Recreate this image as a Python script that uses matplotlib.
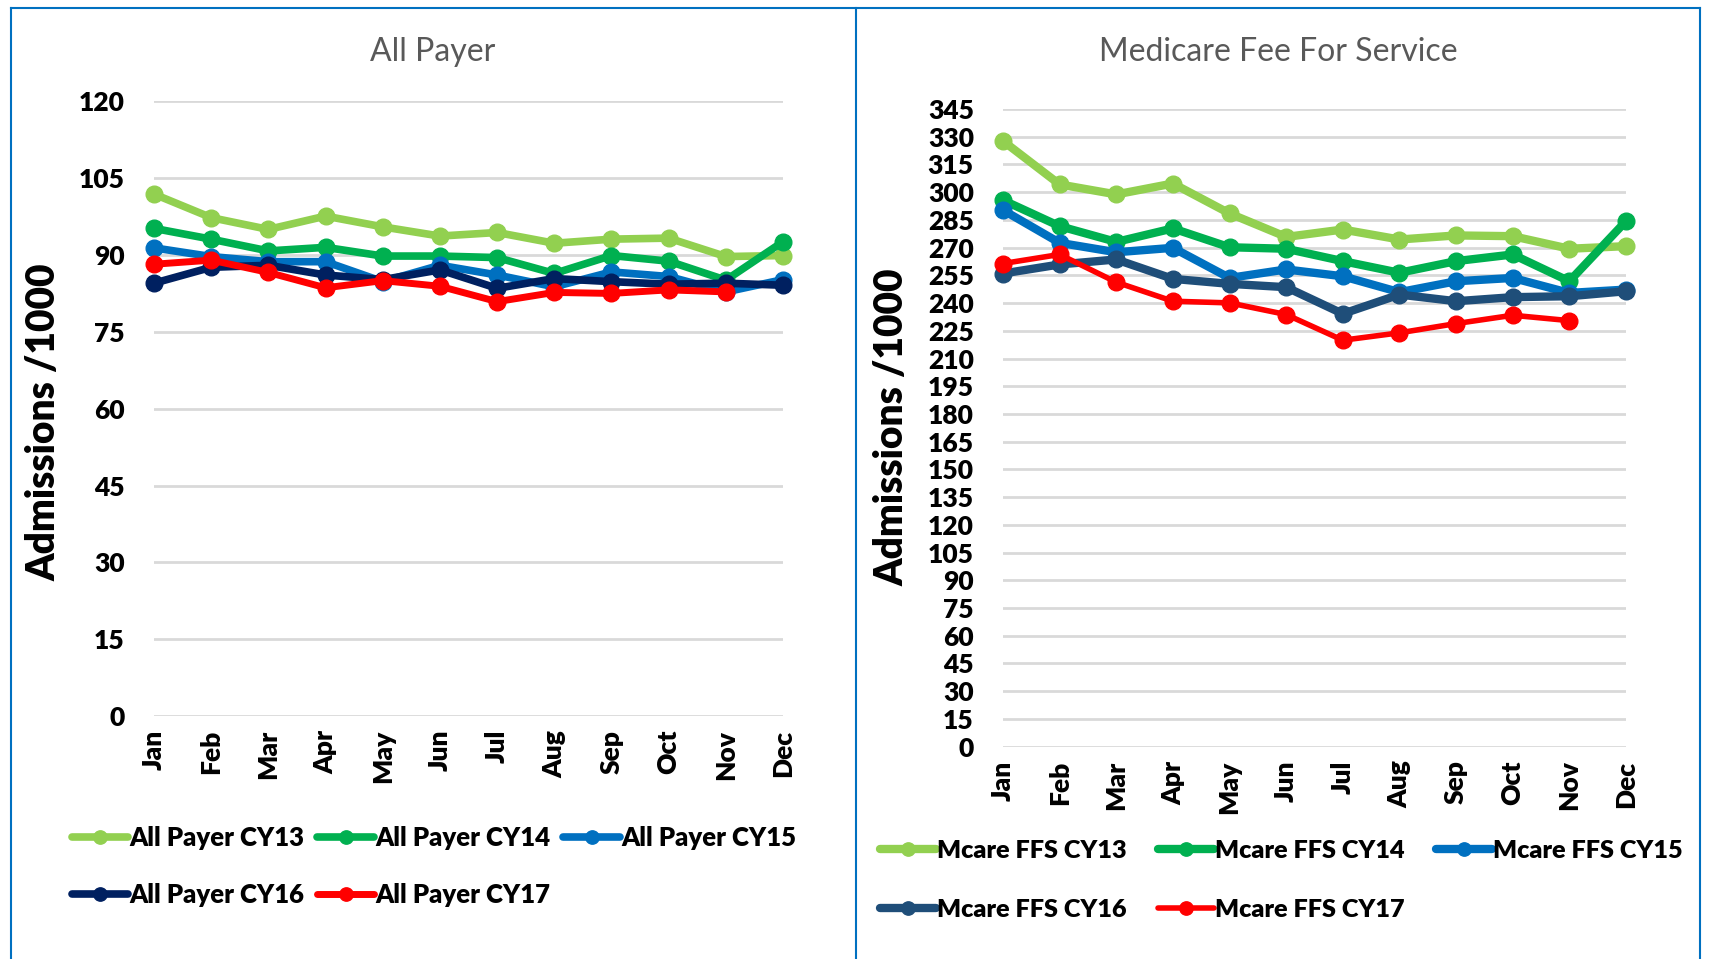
import matplotlib.pyplot as plt
from matplotlib.lines import Line2D

plt.rcParams['font.family'] = ['Lato', 'DejaVu Sans']

months = ["Jan", "Feb", "Mar", "Apr", "May", "Jun", "Jul", "Aug", "Sep", "Oct", "Nov", "Dec"]

# All Payer admissions per 1000
ap_cy13 = [101.9, 97.3, 95.0, 97.6, 95.5, 93.7, 94.4, 92.3, 93.1, 93.3, 89.7, 89.9]
ap_cy14 = [95.2, 93.1, 90.8, 91.5, 89.8, 89.8, 89.5, 86.4, 89.9, 88.8, 85.1, 92.6]
ap_cy15 = [91.4, 89.7, 88.7, 88.7, 84.8, 88.0, 86.1, 83.8, 86.7, 85.8, 82.8, 85.2]
ap_cy16 = [84.5, 87.6, 88.0, 86.1, 85.2, 87.1, 83.5, 85.4, 84.8, 84.3, 84.5, 84.1]
ap_cy17 = [88.2, 89.0, 86.6, 83.6, 85.0, 83.9, 80.9, 82.7, 82.5, 83.2, 82.8, None]

# Medicare FFS admissions per 1000
mc_cy13 = [327.7, 304.2, 298.8, 304.7, 288.5, 275.8, 279.8, 274.4, 276.6, 276.2, 269.4, 270.8]
mc_cy14 = [295.7, 281.6, 273.1, 280.4, 270.2, 269.4, 262.7, 256.4, 262.7, 266.3, 251.8, 284.3]
mc_cy15 = [290.3, 272.6, 267.5, 269.9, 253.6, 258.2, 254.5, 245.9, 251.8, 253.6, 245.5, 247.3]
mc_cy16 = [256.0, 260.9, 263.6, 253.1, 250.4, 248.6, 234.2, 244.6, 241.0, 243.2, 243.7, 246.4]
mc_cy17 = [261.4, 266.3, 251.3, 241.0, 240.1, 233.8, 219.9, 223.9, 228.9, 233.4, 230.5, None]

ap_series = [("All Payer CY13", ap_cy13, "#92D050"),
             ("All Payer CY14", ap_cy14, "#00B050"),
             ("All Payer CY15", ap_cy15, "#0070C0"),
             ("All Payer CY16", ap_cy16, "#002060"),
             ("All Payer CY17", ap_cy17, "#FF0000")]
mc_series = [("Mcare FFS CY13", mc_cy13, "#92D050"),
             ("Mcare FFS CY14", mc_cy14, "#00B050"),
             ("Mcare FFS CY15", mc_cy15, "#0070C0"),
             ("Mcare FFS CY16", mc_cy16, "#1F4E79"),
             ("Mcare FFS CY17", mc_cy17, "#FF0000")]

fig = plt.figure(figsize=(17.09, 9.59), dpi=100)
ax1 = fig.add_axes([0.0901, 0.2534, 0.3681, 0.6409])
ax2 = fig.add_axes([0.5869, 0.2215, 0.3645, 0.6648])

x = list(range(12))
BOLD = "heavy"


def style(ax, ymax, step):
    ax.set_xlim(0, 11)
    ax.set_ylim(0, ymax)
    ax.set_yticks(range(0, ymax + 1, step))
    ax.set_xticks(x)
    ax.set_xticklabels(months, rotation=90, fontsize=19, fontweight=BOLD)
    for lab in ax.get_yticklabels():
        lab.set_fontsize(19)
        lab.set_fontweight(BOLD)
    ax.grid(axis="y", color="#D9D9D9", linewidth=2)
    ax.set_axisbelow(True)
    for s in ax.spines.values():
        s.set_visible(False)
    ax.tick_params(axis="y", length=0, pad=21)
    ax.tick_params(axis="x", length=0, pad=10)


def draw(ax, series, widths):
    for (name, vals, c), lw in zip(series, widths):
        xs = [i for i, v in zip(x, vals) if v is not None]
        ys = [v for v in vals if v is not None]
        ax.plot(xs, ys, color=c, lw=lw, marker="o", ms=12, label=name, clip_on=False,
                solid_capstyle="round")


draw(ax1, ap_series, [5.5, 5.5, 5.5, 5.5, 5])
style(ax1, 120, 15)
draw(ax2, mc_series, [6, 6, 6, 6, 4])
style(ax2, 345, 15)

fig.text(0.2532, 0.9455, "All Payer", ha="center", va="center", fontsize=23, color="#595959")
fig.text(0.748, 0.9455, "Medicare Fee For Service", ha="center", va="center", fontsize=23, color="#595959")
fig.text(0.0255, 0.56, "Admissions /1000", rotation=90, ha="center", va="center",
         fontsize=28, fontweight=BOLD)
fig.text(0.5217, 0.555, "Admissions /1000", rotation=90, ha="center", va="center",
         fontsize=28, fontweight=BOLD)

# legends filled row by row, like the original
order = [0, 3, 1, 4, 2]
h1, l1 = ax1.get_legend_handles_labels()
h2, l2 = ax2.get_legend_handles_labels()
fig.legend([h1[i] for i in order], [l1[i] for i in order], loc="upper left",
           bbox_to_anchor=(0.036, 0.1496), ncol=3, frameon=False,
           prop={"size": 18.5, "weight": BOLD}, handlelength=2.2, markerscale=0.8,
           handletextpad=0.05, columnspacing=0.5, labelspacing=1.3, borderaxespad=0)
fig.legend([h2[i] for i in order], [l2[i] for i in order], loc="upper left",
           bbox_to_anchor=(0.509, 0.1343), ncol=3, frameon=False,
           prop={"size": 18.2, "weight": BOLD}, handlelength=2.2, markerscale=0.8,
           handletextpad=0.05, columnspacing=1.25, labelspacing=1.45, borderaxespad=0)

# panel borders
bc = "#0070C0"
fig.add_artist(Line2D([0.0064, 0.995], [0.9917, 0.9917], color=bc, lw=1.5))
fig.add_artist(Line2D([0.0064, 0.0064], [0, 0.9917], color=bc, lw=1.5))
fig.add_artist(Line2D([0.995, 0.995], [0, 0.9917], color=bc, lw=1.5))
fig.add_artist(Line2D([0.5009, 0.5009], [0, 0.9917], color=bc, lw=1.5))

fig.savefig("out.png", dpi=100)
